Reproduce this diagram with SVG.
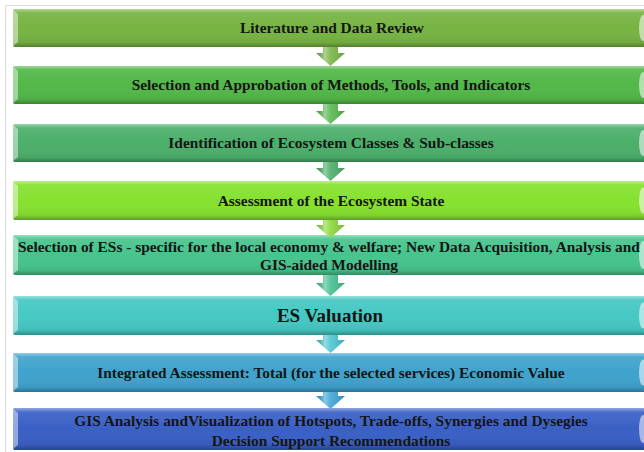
<svg xmlns="http://www.w3.org/2000/svg" width="644" height="452" viewBox="0 0 644 452">
<defs>
<linearGradient id="shade" x1="0" y1="0" x2="0" y2="1">
<stop offset="0" stop-color="#fff" stop-opacity="0.45"/>
<stop offset="0.1" stop-color="#fff" stop-opacity="0.08"/>
<stop offset="0.5" stop-color="#fff" stop-opacity="0"/>
<stop offset="0.88" stop-color="#000" stop-opacity="0.06"/>
<stop offset="1" stop-color="#000" stop-opacity="0.3"/>
</linearGradient>
<linearGradient id="ashade" x1="0" y1="0" x2="1" y2="0">
<stop offset="0" stop-color="#000" stop-opacity="0.1"/>
<stop offset="0.3" stop-color="#fff" stop-opacity="0.4"/>
<stop offset="0.5" stop-color="#fff" stop-opacity="0.1"/>
<stop offset="1" stop-color="#000" stop-opacity="0.15"/>
</linearGradient>
</defs>
<style>
.ov{fill:url(#shade)}
.lb{fill:#fff;opacity:0.45}
.re{fill:#fff;opacity:0.55}
.t{font-family:"Liberation Serif","Times New Roman",serif;font-weight:bold;font-size:15.4px;fill:#151515;text-anchor:middle}
.big{font-size:19px}
.ao{fill:url(#ashade)}
</style>
<rect width="644" height="452" fill="#fff"/>
<path d="M5.5 452V5.5H644" fill="none" stroke="#dcdcdc" stroke-width="1"/>

<g id="n1">
<rect x="13" y="9" width="660" height="38" rx="2" fill="#77b443"/>
<rect x="13" y="9" width="660" height="38" rx="2" class="ov"/>
<path d="M13 10 L18 14 L18 42 L13 46 Z" class="lb"/>
<ellipse cx="643" cy="28" rx="4" ry="13" class="re"/>
<text x="332" y="33" class="t">Literature and Data Review</text>
</g>
<g id="n2">
<rect x="13" y="66" width="660" height="38" rx="2" fill="#52b848"/>
<rect x="13" y="66" width="660" height="38" rx="2" class="ov"/>
<path d="M13 67 L18 71 L18 99 L13 103 Z" class="lb"/>
<ellipse cx="643" cy="85" rx="4" ry="13" class="re"/>
<text x="331" y="90" class="t">Selection and Approbation of Methods, Tools, and Indicators</text>
</g>
<g id="n3">
<rect x="13" y="124" width="660" height="38" rx="2" fill="#4caf6a"/>
<rect x="13" y="124" width="660" height="38" rx="2" class="ov"/>
<path d="M13 125 L18 129 L18 157 L13 161 Z" class="lb"/>
<ellipse cx="643" cy="143" rx="4" ry="13" class="re"/>
<text x="331" y="148" class="t">Identification of Ecosystem Classes &amp; Sub-classes</text>
</g>
<g id="n4">
<rect x="13" y="181" width="660" height="39" rx="2" fill="#86e12f"/>
<rect x="13" y="181" width="660" height="39" rx="2" class="ov"/>
<path d="M13 182 L18 186 L18 215 L13 219 Z" class="lb"/>
<ellipse cx="643" cy="200.5" rx="4" ry="13" class="re"/>
<text x="331" y="205.5" class="t">Assessment of the Ecosystem State</text>
</g>
<g id="n5">
<rect x="13" y="235" width="660" height="40" rx="2" fill="#47c48d"/>
<rect x="13" y="235" width="660" height="40" rx="2" class="ov"/>
<path d="M13 236 L18 240 L18 270 L13 274 Z" class="lb"/>
<ellipse cx="643" cy="255" rx="4" ry="14" class="re"/>
<text x="329" y="252" class="t">Selection of ESs - specific for the local economy &amp; welfare; New Data Acquisition, Analysis and</text>
<text x="329" y="270" class="t">GIS-aided Modelling</text>
</g>
<g id="n6">
<rect x="13" y="296" width="660" height="39" rx="2" fill="#46c8c3"/>
<rect x="13" y="296" width="660" height="39" rx="2" class="ov"/>
<path d="M13 297 L18 301 L18 330 L13 334 Z" class="lb"/>
<ellipse cx="643" cy="315.5" rx="4" ry="13" class="re"/>
<text x="330" y="322" class="t big">ES Valuation</text>
</g>
<g id="n7">
<rect x="13" y="353" width="660" height="39" rx="2" fill="#3fa3cd"/>
<rect x="13" y="353" width="660" height="39" rx="2" class="ov"/>
<path d="M13 354 L18 358 L18 387 L13 391 Z" class="lb"/>
<ellipse cx="643" cy="372.5" rx="4" ry="13" class="re"/>
<text x="331" y="378" class="t">Integrated Assessment: Total (for the selected services) Economic Value</text>
</g>
<g id="n8">
<rect x="13" y="408" width="660" height="42" rx="2" fill="#3a60c6"/>
<rect x="13" y="408" width="660" height="42" rx="2" class="ov"/>
<path d="M13 409 L18 413 L18 445 L13 449 Z" class="lb"/>
<ellipse cx="643" cy="429" rx="4" ry="14" class="re"/>
<text x="331" y="426" class="t">GIS Analysis andVisualization of Hotspots, Trade-offs, Synergies and Dysegies</text>
<text x="331" y="446" class="t">Decision Support Recommendations</text>
</g>

<g id="connectors">
<path d="M323 47H338V53H345L330.5 66L316 53H323Z" fill="#7ab648"/>
<path d="M323 47H338V53H345L330.5 66L316 53H323Z" class="ao"/>
<path d="M323 104H338V111H345L330.5 124L316 111H323Z" fill="#58b94f"/>
<path d="M323 104H338V111H345L330.5 124L316 111H323Z" class="ao"/>
<path d="M323 162H338V168H345L330.5 181L316 168H323Z" fill="#4caf6a"/>
<path d="M323 162H338V168H345L330.5 181L316 168H323Z" class="ao"/>
<path d="M323 220H338V225H345L330.5 238L316 225H323Z" fill="#8cd83a"/>
<path d="M323 220H338V225H345L330.5 238L316 225H323Z" class="ao"/>
<path d="M323 275H338V283H345L330.5 296L316 283H323Z" fill="#45c08f"/>
<path d="M323 275H338V283H345L330.5 296L316 283H323Z" class="ao"/>
<path d="M323 335H338V340H345L330.5 353L316 340H323Z" fill="#4cc6d2"/>
<path d="M323 335H338V340H345L330.5 353L316 340H323Z" class="ao"/>
<path d="M323 392H338V396H345L330.5 409L316 396H323Z" fill="#3fa6d6"/>
<path d="M323 392H338V396H345L330.5 409L316 396H323Z" class="ao"/>
</g>
</svg>
